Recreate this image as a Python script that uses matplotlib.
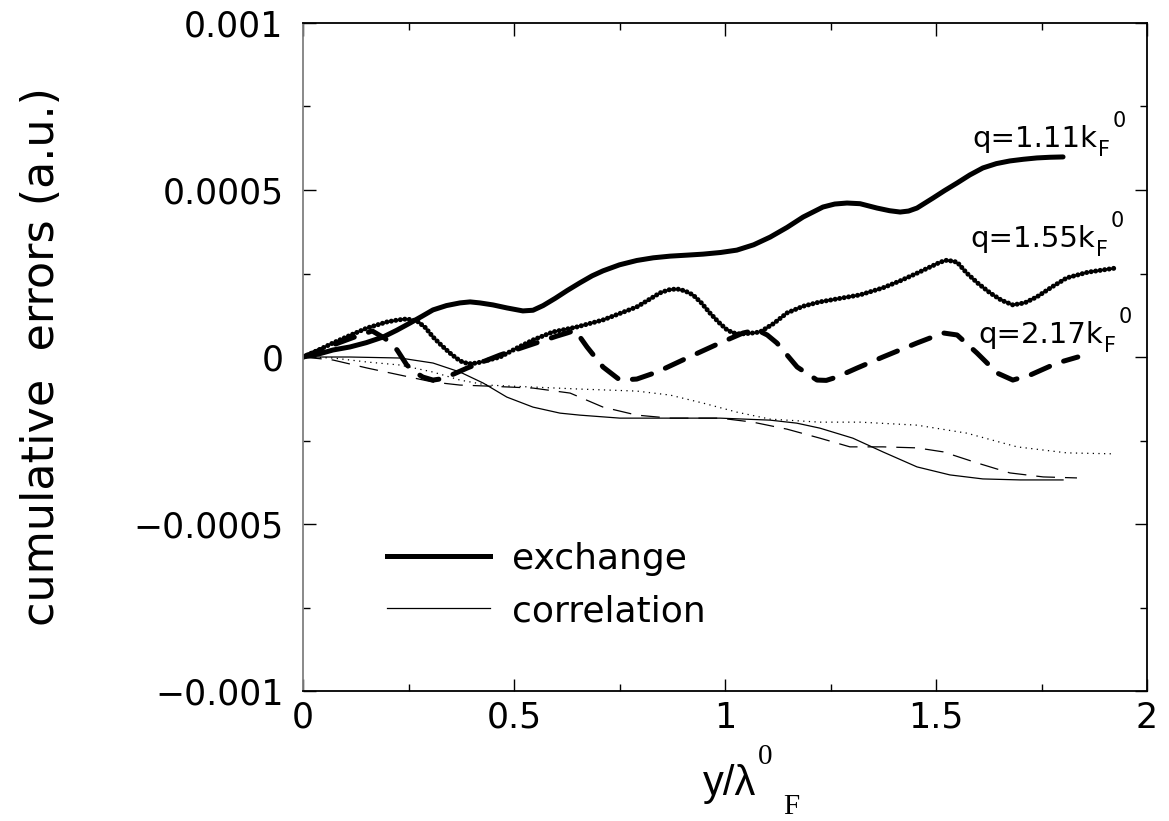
import numpy as np
import matplotlib
matplotlib.use('Agg')
import matplotlib.pyplot as plt
from matplotlib.lines import Line2D
from matplotlib.ticker import MultipleLocator, FuncFormatter

plt.rcParams['font.family'] = ['DejaVu Sans']

# exchange errors (values in units of 1e-6)
x_ex_111 = [0, 0.04, 0.071, 0.111, 0.15, 0.190, 0.222, 0.254, 0.282, 0.308, 0.340, 0.372, 0.396, 0.419,
            0.450, 0.483, 0.521, 0.545, 0.569, 0.598, 0.626, 0.656, 0.685, 0.711, 0.750, 0.791, 0.830,
            0.870, 0.910, 0.948, 0.990, 1.028, 1.068, 1.107, 1.147, 1.185, 1.232, 1.260, 1.289, 1.320,
            1.360, 1.390, 1.415, 1.435, 1.455, 1.493, 1.520, 1.550, 1.580, 1.611, 1.643, 1.675, 1.707,
            1.739, 1.770, 1.801]
y_ex_111 = [0, 10, 21, 30, 43, 60, 80, 102, 122, 141, 154, 162, 165, 162,
            156, 147, 138, 140, 154, 176, 199, 222, 243, 258, 276, 289, 297,
            302, 305, 308, 313, 320, 336, 359, 388, 419, 449, 458, 461, 459,
            446, 438, 434, 437, 446, 476, 498, 521, 545, 566, 579, 587, 592,
            596, 598, 599]

x_ex_155 = [0, 0.035, 0.071, 0.110, 0.152, 0.199, 0.225, 0.246, 0.270, 0.290, 0.308, 0.328, 0.348, 0.365,
            0.379, 0.395, 0.412, 0.440, 0.467, 0.507, 0.545, 0.592, 0.649, 0.711, 0.750, 0.791, 0.820,
            0.846, 0.866, 0.886, 0.905, 0.924, 0.944, 0.964, 0.985, 1.005, 1.020, 1.036, 1.060, 1.083,
            1.115, 1.147, 1.185, 1.225, 1.270, 1.320, 1.374, 1.415, 1.455, 1.490, 1.510, 1.526, 1.550,
            1.573, 1.600, 1.628, 1.655, 1.682, 1.710, 1.739, 1.775, 1.810, 1.860, 1.924]
y_ex_155 = [0, 20, 42, 64, 87, 105, 111, 114, 108, 88, 60, 35, 12, -5,
            -16, -20, -18, -9, 0, 27, 51, 75, 90, 111, 130, 150, 172,
            192, 201, 204, 198, 186, 162, 132, 104, 81, 72, 69, 71, 75,
            100, 132, 152, 165, 175, 186, 207, 228, 251, 272, 284, 290, 284,
            251, 220, 192, 170, 156, 162, 180, 210, 237, 254, 266]

x_ex_217 = [0, 0.035, 0.071, 0.118, 0.164, 0.195, 0.223, 0.246, 0.265, 0.284, 0.308, 0.330, 0.341, 0.389,
            0.467, 0.538, 0.600, 0.626, 0.645, 0.673, 0.711, 0.751, 0.791, 0.839, 0.910, 0.988, 1.043,
            1.076, 1.100, 1.123, 1.171, 1.218, 1.240, 1.265, 1.313, 1.374, 1.455, 1.517, 1.550, 1.597,
            1.645, 1.682, 1.723, 1.787, 1.836]
y_ex_217 = [0, 18, 36, 58, 78, 55, 21, -24, -45, -60, -69, -65, -60, -33,
            6, 36, 62, 72, 80, 30, -30, -69, -66, -45, -3, 42, 72,
            81, 66, 42, -30, -69, -70, -60, -33, 0, 42, 72, 66, 12,
            -48, -69, -54, -18, 0]

# correlation errors (values in units of 1e-6)
x_co_111 = [0, 0.111, 0.230, 0.308, 0.372, 0.427, 0.483, 0.545, 0.609, 0.656, 0.751, 0.870, 0.988, 1.107,
            1.170, 1.225, 1.303, 1.374, 1.455, 1.533, 1.611, 1.700, 1.801]
y_co_111 = [0, 0, -3, -18, -45, -78, -120, -150, -168, -174, -183, -183, -183, -189,
            -198, -213, -243, -284, -329, -353, -365, -368, -368]

x_co_155 = [0, 0.071, 0.152, 0.230, 0.308, 0.372, 0.436, 0.545, 0.656, 0.791, 0.870, 0.948, 1.028, 1.107,
            1.225, 1.320, 1.455, 1.573, 1.692, 1.810, 1.924]
y_co_155 = [0, -3, -15, -24, -45, -69, -84, -90, -96, -102, -114, -138, -165, -186,
            -195, -195, -204, -228, -269, -287, -290]

x_co_217 = [0, 0.071, 0.152, 0.230, 0.308, 0.372, 0.436, 0.545, 0.633, 0.711, 0.791, 0.870, 0.988, 1.066,
            1.147, 1.225, 1.296, 1.374, 1.455, 1.517, 1.597, 1.675, 1.754, 1.834]
y_co_217 = [0, -9, -33, -54, -75, -84, -87, -93, -108, -150, -174, -183, -183, -195,
            -216, -243, -269, -269, -272, -284, -317, -347, -359, -362]

curve_labels = ['q=1.11k', 'q=1.55k', 'q=2.17k']
label_pos = [(1.585, 0.000629), (1.581, 0.000329), (1.600, 0.000042)]
legend_labels = ['exchange', 'correlation']

scale = 1e-6

fig = plt.figure(figsize=(11.69, 8.21), dpi=100)
ax = fig.add_axes([0.2592, 0.1583, 0.722, 0.8137])

thick = 3.6
thin = 0.9
ax.plot(x_ex_111, np.array(y_ex_111) * scale, color='k', lw=thick, solid_capstyle='round')
ax.plot(x_ex_155, np.array(y_ex_155) * scale, color='k', lw=thick,
        linestyle=(0, (0.01, 0.9)), dash_capstyle='round')
ax.plot(x_ex_217, np.array(y_ex_217) * scale, color='k', lw=thick,
        linestyle=(0, (4, 3)), dash_capstyle='round')

ax.plot(x_co_111, np.array(y_co_111) * scale, color='k', lw=thin)
ax.plot(x_co_155, np.array(y_co_155) * scale, color='k', lw=thin, linestyle=(0, (1, 3.5)))
ax.plot(x_co_217, np.array(y_co_217) * scale, color='k', lw=thin, linestyle=(0, (15, 8)))

# curve labels: q=...k with subscript F and superscript 0 placed after
for lab, (lx, ly) in zip(curve_labels, label_pos):
    t = ax.text(lx, ly, lab, fontsize=21, va='baseline', ha='left')
    ax.annotate('F', xy=(1, 0), xycoords=t, xytext=(0.5, -2), textcoords='offset points',
                fontsize=15, va='baseline', ha='left')
    ax.annotate('0', xy=(1, 0), xycoords=t, xytext=(11.5, 19), textcoords='offset points',
                fontsize=15, va='baseline', ha='left')

ax.set_xlim(0, 2)
ax.set_ylim(-0.001, 0.001)
ax.xaxis.set_major_locator(MultipleLocator(0.5))
ax.xaxis.set_minor_locator(MultipleLocator(0.25))
ax.yaxis.set_major_locator(MultipleLocator(0.0005))
ax.yaxis.set_minor_locator(MultipleLocator(0.00025))

fmt = FuncFormatter(lambda v, p: ('%g' % round(v, 6)).replace('-', '\u2212'))
ax.xaxis.set_major_formatter(fmt)
ax.yaxis.set_major_formatter(fmt)

ax.tick_params(which='both', direction='in', top=True, right=True, width=1.0)
ax.tick_params(which='major', length=9, labelsize=25)
ax.tick_params(axis='y', which='major', pad=14)
ax.tick_params(axis='x', which='major', pad=7)
ax.tick_params(which='minor', length=5)
for s in ax.spines.values():
    s.set_linewidth(1.3)
ax.spines['left'].set_color('#808080')

ax.set_ylabel('cumulative  errors (a.u.)', fontsize=32)
ax.yaxis.set_label_coords(-0.284, 0.5)

# x label: sans part plus serif super/subscript
fig.text(703 / 1169, 1 - 795 / 821, 'y/\u03bb', fontsize=30, va='baseline', ha='left',
         family='Liberation Sans')
fig.text(758 / 1169, 1 - 764 / 821, '0', fontsize=21, va='baseline', ha='left',
         family='Liberation Serif')
fig.text(783 / 1169, 1 - 814 / 821, 'F', fontsize=21, va='baseline', ha='left',
         family='Liberation Serif')

handles = [Line2D([], [], color='k', lw=thick), Line2D([], [], color='k', lw=thin)]
ax.legend(handles, legend_labels, loc='upper left', bbox_to_anchor=(0.0995, 0.223),
          frameon=False, fontsize=26, handlelength=2.85, handletextpad=0.6,
          labelspacing=0.5, borderpad=0, borderaxespad=0)

fig.savefig('out.png', dpi=100)
